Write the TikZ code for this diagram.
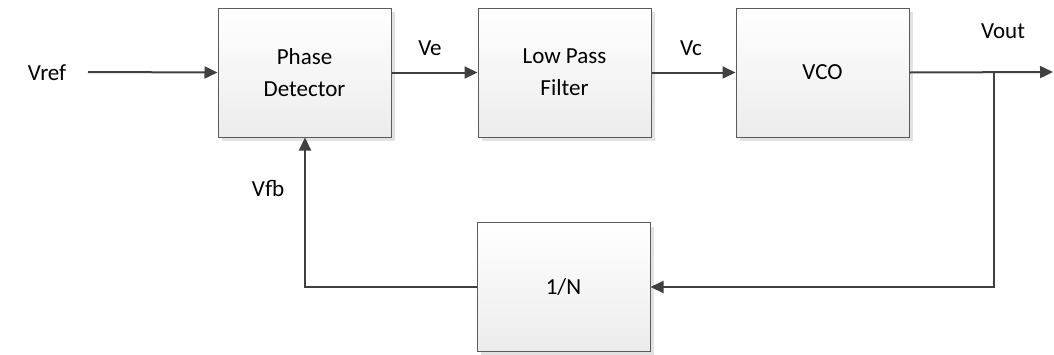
\documentclass[tikz,border=0pt]{standalone}
\usepackage{fontspec}
\setmainfont{Carlito}
\usetikzlibrary{arrows.meta,positioning}
\definecolor{linec}{HTML}{404040}
\definecolor{boxc}{HTML}{5A5A5A}
\definecolor{shadowc}{HTML}{E2E2E2}
\definecolor{botc}{HTML}{ECECEC}
\tikzset{
  blockbox/.style={draw=boxc, line width=1pt, top color=white, bottom color=botc,
    minimum width=173pt, minimum height=129pt, align=center, inner sep=0pt,
    font=\fontsize{23}{32}\selectfont},
  shadowbox/.style={fill=shadowc, draw=none, minimum width=173pt, minimum height=129pt},
  conn/.style={draw=linec, line width=2pt},
  arr/.style={conn, -{Triangle[length=13pt,width=12pt]}},
  lbl/.style={font=\fontsize{23}{28}\selectfont, inner sep=0pt}
}
\begin{document}
\begin{tikzpicture}[x=1pt,y=-1pt]
\useasboundingbox (0,0) rectangle (1054,354);
% shadows
\node[shadowbox] at (308.5,76.5) {};
\node[shadowbox] at (568.5,76.5) {};
\node[shadowbox] at (826.5,76.5) {};
\node[shadowbox] at (567.5,291) {};
% blocks
\node[blockbox] (pd) at (304.5,72.5) {Phase\\Detector};
\node[blockbox] (lpf) at (564.5,72.5) {Low Pass\\Filter};
\node[blockbox] (vco) at (822.5,72.5) {VCO};
\node[blockbox] (div) at (563.5,287) {1/N};
% labels
\node[lbl] (vref) at (47,73) {Vref};
\node[lbl] at (430,48) {Ve};
\node[lbl] at (691,48) {Vc};
\node[lbl] at (1003,31) {Vout};
\node[lbl] at (268,188) {Vfb};
% connectors
\coordinate (vin) at (88,72);
\coordinate (vo) at (1053,72);
\coordinate (jn) at (994,72);
\coordinate (jd) at (994,287);
\coordinate (fb) at (305,287);
\draw[arr] (vin) -- (pd.west);
\draw[arr] (pd.east) -- (lpf.west);
\draw[arr] (lpf.east) -- (vco.west);
\draw[arr] (vco.east) -- (vo);
\draw[arr] (jn) -- (jd) -- (div.east);
\draw[arr] (div.west) -- (fb) -- (fb |- pd.south);
\end{tikzpicture}
\end{document}
